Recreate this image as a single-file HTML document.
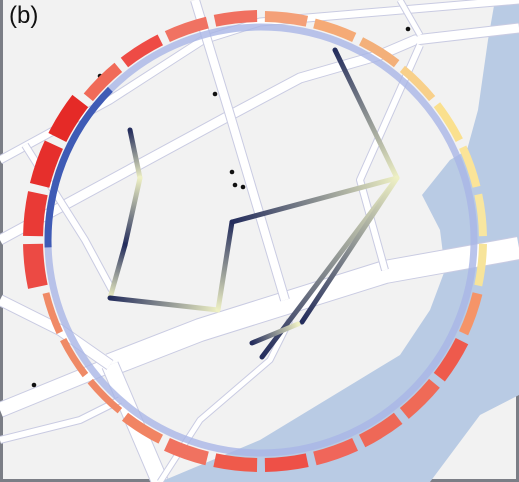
<!DOCTYPE html>
<html><head><meta charset="utf-8"><style>
html,body{margin:0;padding:0;}
body{width:519px;height:482px;overflow:hidden;background:#f2f2f2;}
#wrap{position:relative;width:513px;height:479px;border-left:3px solid #7b7e86;border-right:3px solid #7b7e86;border-bottom:3px solid #7b7e86;background:#f2f2f2;}
#lbl{position:absolute;left:6px;top:2px;font:24px "Liberation Sans",sans-serif;color:#111;}
svg{position:absolute;left:-3px;top:0;}
</style></head><body>
<div id="wrap">
<svg id="map" width="519" height="482" viewBox="0 0 519 482">
<defs id="defs"></defs>
<polygon fill="#b9cbe4" points="495,0 519,0 519,395 480,415 430,482 160,482 260,440 400,355 430,310 445,270 440,230 422,195 450,160 467,150 478,110 488,40"/>
<g id="roads"></g>
<g id="dots"></g>
<g id="ring"></g>
<g id="segs"></g>
<g id="traj"></g>
</svg>
<div id="lbl">(b)</div>
</div>
<script>
const segColors=["#f4a078","#f5aa76","#f3b07a","#f8d08a","#fae08e","#fbe498","#f8e6a0","#f7e49a","#f59468","#ee5a4c","#ef6a57","#ee6857","#f0665a","#ee5047","#ef5a4b","#f07260","#f18463","#f08866","#ef8a66","#f08a66","#ec4a44","#e93a36","#e62f2c","#e52a27","#f06a58","#ee4b45","#f07262","#f07060"];
const segThick=[11,10,9,8,8,8,8,8,10,14,14,14,14,14,14,14,10,7,7,7,20,20,20,20,12,12,12,12];
const dots=[[100,76],[215,94],[232,172],[235,185],[243,187],[408,29],[34,385]];
const trajSegs=[[130,130,140,178,0,1],[140,178,125,245,1,0],[125,245,110,298,0,1],[110,298,218,310,0,1],[218,310,232,222,1,0],[232,222,397,178,0,1],[397,178,335,50,1,0],[397,178,262,357,1,0],[397,178,302,322,1,0],[298,324,252,343,1,0]];
const darkArc=[268,315];
const roads=[[[110,365],[200,330],[385,272],[519,248],22],[[110,365],[0,410],14],[[110,365],[160,482],16],[[110,365],[60,330],[0,300],10],[[0,160],[110,100],[203,40],[260,22],[519,0],7],[[0,240],[225,118],[300,78],[380,55],[415,40],[519,28],9],[[400,0],[420,35],5],[[195,0],[230,115],[285,300],8],[[420,45],[360,180],[385,270],6],[[25,145],[85,240],[112,290],6],[[160,482],[200,420],[270,360],[290,320],5],[[0,440],[80,420],[120,400],6]];
const NS="http://www.w3.org/2000/svg";
const cx=261,cy=240,R=213;
function pt(a,r){const t=a*Math.PI/180;return [cx+r*Math.sin(t),cy-r*Math.cos(t)];}
function mk(tag,attrs,parent){const e=document.createElementNS(NS,tag);for(const k in attrs)e.setAttribute(k,attrs[k]);parent.appendChild(e);return e;}
const rg=document.getElementById('roads');
roads.forEach(r=>{const w=r[r.length-1];const pts=r.slice(0,-1).map(p=>p.join(',')).join(' ');
const o=mk('polyline',{points:pts,fill:'none',stroke:'#c9cbe2','stroke-width':w+2,'stroke-linejoin':'round'},rg);


const i=mk('polyline',{points:pts,fill:'none',stroke:'#ffffff','stroke-width':w,'stroke-linejoin':'round'},rg);

});
const dg=document.getElementById('dots');
dots.forEach(d=>{const c=mk('circle',{cx:d[0],cy:d[1],r:2.3,fill:'#111'},dg);

});
const ring=document.getElementById('ring');
const rc=mk('circle',{cx:cx,cy:cy,r:R,fill:'none',stroke:'#a9b5e6','stroke-width':7,'stroke-opacity':0.8},ring);


function arcPath(a0,a1,r0,r1){const p0=pt(a0,r1),p1=pt(a1,r1),p2=pt(a1,r0),p3=pt(a0,r0);const lg=(a1-a0)>180?1:0;
return `M${p0} A${r1},${r1} 0 ${lg} 1 ${p1} L${p2} A${r0},${r0} 0 ${lg} 0 ${p3}Z`;}
const da=mk('path',{d:arcPath(darkArc[0],darkArc[1],R-3.5,R+3.5),fill:'#3f5bb5'},ring);


const sg=document.getElementById('segs');
const n=segColors.length,step=360/n;
segColors.forEach((c,i)=>{const a0=i*step+1,a1=(i+1)*step-1;
const p=mk('path',{d:arcPath(a0,a1,R+5,R+5+segThick[i]),fill:c},sg);

});
const defs=document.getElementById('defs');const tg=document.getElementById('traj');
const cols=['#232c5c','#eef0c4'];
trajSegs.forEach((s,i)=>{const g=mk('linearGradient',{id:'g'+i,gradientUnits:'userSpaceOnUse',x1:s[0],y1:s[1],x2:s[2],y2:s[3]},defs);
mk('stop',{offset:0,'stop-color':cols[s[4]]},g);mk('stop',{offset:1,'stop-color':cols[s[5]]},g);
const l=mk('line',{x1:s[0],y1:s[1],x2:s[2],y2:s[3],stroke:`url(#g${i})`,'stroke-width':5,'stroke-linecap':'round'},tg);

});
</script>
</body></html>
